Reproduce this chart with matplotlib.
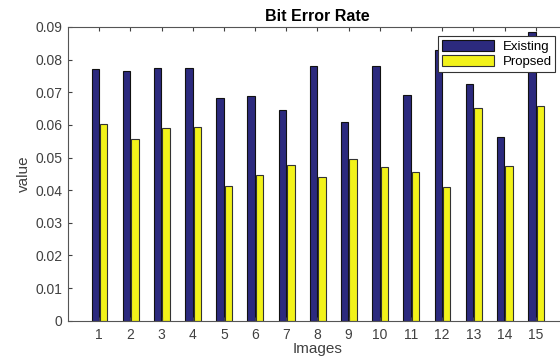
import numpy as np
import matplotlib
matplotlib.use('Agg')
import matplotlib.pyplot as plt

plt.rcParams['font.family'] = ['Liberation Sans', 'DejaVu Sans']

images = np.arange(1, 16)
existing = [0.0771, 0.0766, 0.0774, 0.0774, 0.0682, 0.0688, 0.0646, 0.0780,
            0.0609, 0.0780, 0.0691, 0.0830, 0.0724, 0.0562, 0.0886]
proposed = [0.0603, 0.0556, 0.0591, 0.0593, 0.0414, 0.0447, 0.0477, 0.0440,
            0.0496, 0.0472, 0.0457, 0.0409, 0.0651, 0.0475, 0.0658]
yticks = [0, 0.01, 0.02, 0.03, 0.04, 0.05, 0.06, 0.07, 0.08, 0.09]

fig = plt.figure(figsize=(5.6, 3.56), dpi=100)
ax = fig.add_axes([0.1214, 0.0992, 0.891, 0.825])

w = 0.24
b1 = ax.bar(images - 0.125, existing, w, color='#2c2a7e', edgecolor='#111111', linewidth=0.8)
b2 = ax.bar(images + 0.145, proposed, w, color='#f2f21a', edgecolor='#333333', linewidth=0.8)

ax.set_xlim(0, 16)
ax.set_ylim(0, 0.09)
ax.set_xticks(images)
ax.set_yticks(yticks)
ax.set_yticklabels(['0'] + ['%.2f' % v for v in yticks[1:]])
ax.tick_params(direction='in', top=True, right=True, length=3, labelsize=10,
               colors='#404040')
ax.tick_params(axis='y', pad=4)
ax.tick_params(axis='x', pad=5)
for s in ax.spines.values():
    s.set_color('#555555')
    s.set_linewidth(0.8)

ax.set_title('Bit Error Rate', fontsize=11.5, fontweight='bold', pad=4)
ax.set_xlabel('Images', fontsize=11, color='#404040', labelpad=0)
ax.set_ylabel('value', fontsize=11, color='#404040', labelpad=3)

leg = ax.legend((b1, b2), ('Existing', 'Propsed'), loc='upper right',
                bbox_to_anchor=(0.977, 0.968), fontsize=9.5, fancybox=False,
                framealpha=1, edgecolor='#333333', borderpad=0.3,
                handlelength=4.0, handleheight=0.9, handletextpad=0.6,
                labelspacing=0.1, borderaxespad=0)
leg.get_frame().set_linewidth(0.8)

fig.savefig('out.png', dpi=100)
